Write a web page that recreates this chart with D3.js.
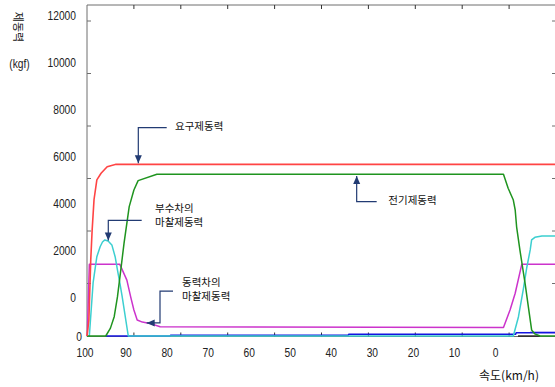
<!DOCTYPE html>
<html><head><meta charset="utf-8">
<script src="https://cdn.jsdelivr.net/npm/d3@7"></script>
<style>
body{margin:0;background:#fff;}
svg{display:block;}
.num{font-family:"Liberation Sans Narrow","Liberation Sans",Arial,sans-serif;font-size:13.5px;fill:#222;}
.kr{font-family:"Noto Sans CJK KR","Noto Sans",sans-serif;font-size:10.5px;fill:#111;}
</style></head>
<body>
<script>
// ---- data (speed km/h, braking force kgf) ----
const xTickValues = [90,80,70,60,50,40,30,20,10];
const xLabelValues = [100,90,80,70,60,50,40,30,20,10,0];
const yTickValues = [2000,4000,6000,8000,10000,12000];
const yLabelValues = [12000,10000,8000,6000,4000,2000,0];

const requiredSpeed = [100,99.6,99.2,98.9,98.5,97.9,97.0,95.7,93.8,0];
const requiredForce = [0,600,2900,4050,5200,5950,6200,6450,6540,6540];

const electricSpeed = [100,96.0,95.0,94.2,93.5,92.8,92.1,91.0,90.0,89.1,85.1,11.2,10.2,9.1,8.7,8.4,7.7,6.6,5.9,5.2,4.5,3.4,0];
const electricForce = [0,0,300,735,1500,2510,3540,4930,5560,5920,6160,6160,5630,5180,4800,4160,3280,2010,1120,230,80,0,0];

const trailerSpeed = [99.5,98.7,97.9,97.2,96.7,96.2,95.5,94.7,94.0,93.5,93.0,92.5,91.2,9.1,8.0,7.0,6.25,5.5,5.2,4.5,3.0,0];
const trailerForce = [0,2020,3020,3400,3580,3660,3620,3470,3020,2510,2020,1500,0,0,735,1750,2590,3280,3660,3760,3810,3810];

const motorSpeed = [99.94,99.5,93.0,91.5,90.7,90.0,89.3,88.2,86.6,84.4,11.2,9.8,8.7,7.3,0];
const motorForce = [0,2730,2730,2130,1500,990,610,530,480,350,320,990,1630,2730,2730];

const blueSpeed = [96.0,91.2,82.3,82.2,44.3,44.2,8.6,8.5,0];
const blueForce = [0,0,0,25,25,70,70,120,120];

const blackSpeed = [8.1,3.4];
const blackForce = [0,0];

const lavenderSpeed = [5.5,0];
const lavenderForce = [160,160];

const annotations = [
  {lines:["요구제동력"], speed:89.06, force:6580, path:[[0,0],[0,-35.6],[28.4,-35.6]], dir:"down", tx:36.7, ty:[-37]},
  {lines:["전기제동력"], speed:42.5, force:6100, path:[[0,0],[0,25.7],[20,25.7]], dir:"up", tx:31.7, ty:[24]},
  {lines:["부수차의","마찰제동력"], speed:95.46, force:3640, path:[[0,0],[0,-20],[33.4,-20]], dir:"down", tx:46.7, ty:[-32,-18]},
  {lines:["동력차의","마찰제동력"], speed:87.27, force:500, path:[[0,0],[13.3,0],[13.3,-31.7],[26.3,-31.7]], dir:"left", tx:35.3, ty:[-40.5,-26.5]}
];

const W = 555, H = 387;
const svg = d3.select("body").append("svg").attr("width",W).attr("height",H);

const x = d3.scaleLinear().domain([100,0]).range([87,556]);
const xLab = d3.scaleLinear().domain([100,0]).range([85,495.5]);
const y = d3.scaleLinear().domain([0,12000]).range([336,21]);
const yLab = d3.scaleLinear().domain([0,12000]).range([297,15]);
const fTop = 5, fBottom = 336.5, fLeft = 87, fRight = 556;

// narrow numeric text helper
function numText(px, py, anchor, txt){
  return svg.append("text").attr("class","num")
    .attr("transform",`translate(${px},${py}) scale(0.76,1)`)
    .attr("text-anchor",anchor).text(txt);
}

// frame
const axisColor = "#6e6e6e";
svg.append("path").attr("d",`M${fLeft},${fTop}H${fRight}V${fBottom}H${fLeft}Z`)
  .attr("fill","none").attr("stroke",axisColor).attr("stroke-width",1);

// ticks (inward)
xTickValues.forEach(v=>{
  svg.append("line").attr("x1",x(v)).attr("x2",x(v)).attr("y1",fBottom).attr("y2",fBottom-4).attr("stroke","#333");
  svg.append("line").attr("x1",x(v)).attr("x2",x(v)).attr("y1",fTop).attr("y2",fTop+4).attr("stroke","#333");
});
yTickValues.forEach(v=>{
  svg.append("line").attr("x1",fLeft).attr("x2",fLeft+4).attr("y1",y(v)).attr("y2",y(v)).attr("stroke",axisColor);
  svg.append("line").attr("x1",fRight-4).attr("x2",fRight).attr("y1",y(v)).attr("y2",y(v)).attr("stroke",axisColor);
});

// tick labels
xLabelValues.forEach(d=>numText(xLab(d), 357, "middle", d));
yLabelValues.forEach(d=>numText(76, yLab(d)+5, "end", d));
numText(82, y(0)+4.5, "end", "0");

// axis titles
svg.append("text").attr("class","kr").attr("transform","translate(13,27) rotate(90)")
  .attr("text-anchor","middle").attr("dy","-0.05em").style("font-size","11px").text("제동력");
numText(19.5, 68, "middle", "(kgf)");
svg.append("text").attr("class","kr").attr("x",509).attr("y",379.5).attr("text-anchor","middle")
  .style("font-size","12px").text("속도(km/h)");

// series
const line = d3.line().x(d=>x(d[0])).y(d=>y(d[1]));
function series(sp, fv, color, w){
  const pts = sp.map((s,i)=>[s,fv[i]]);
  svg.append("path").attr("d",line(pts)).attr("fill","none").attr("stroke",color)
    .attr("stroke-width",w||1.5).attr("stroke-linejoin","round");
}
series(lavenderSpeed, lavenderForce, "#b0a8f0", 1.2);
series(blueSpeed, blueForce, "#1414e0", 1.5);
series(blackSpeed, blackForce, "#111", 1.3);
series(motorSpeed, motorForce, "#cc33cc", 1.5);
series(trailerSpeed, trailerForce, "#3ccfd0", 1.5);
series(electricSpeed, electricForce, "#1f941f", 1.5);
series(requiredSpeed, requiredForce, "#ff4444", 1.6);

// annotations
const navy = "#223b73";
annotations.forEach(a=>{
  const x0 = x(a.speed), y0 = y(a.force);
  const g = svg.append("g").attr("transform",`translate(${x0},${y0})`);
  g.append("path").attr("d",d3.line()(a.path)).attr("fill","none").attr("stroke",navy).attr("stroke-width",1.2);
  let tri;
  if(a.dir==="down") tri = "M0,0L-3.5,-8L3.5,-8Z";
  else if(a.dir==="up") tri = "M0,0L-3.5,8L3.5,8Z";
  else tri = "M0,0L8,-3.5L8,3.5Z";
  g.append("path").attr("d",tri).attr("fill",navy);
  a.lines.forEach((t,i)=>{
    g.append("text").attr("class","kr").attr("x",a.tx).attr("y",a.ty[i]+4).text(t);
  });
});
</script>
</body></html>
